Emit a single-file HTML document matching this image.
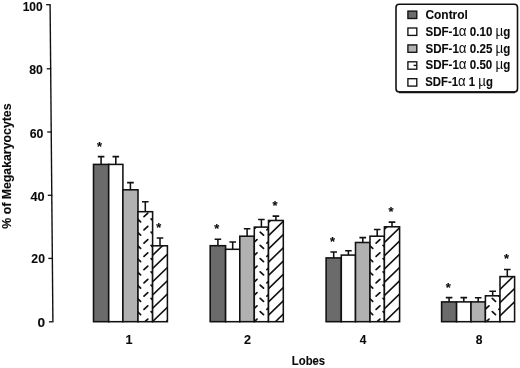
<!DOCTYPE html>
<html><head><meta charset="utf-8"><title>Megakaryocyte lobes chart</title>
<style>html,body{margin:0;padding:0;background:#fff}svg{display:block}.t text{font-family:"Liberation Sans",Arial,Helvetica,sans-serif;font-size:12.5px;font-weight:bold;fill:#0a0a0a;stroke:#0a0a0a;stroke-width:.1px}.t .s{stroke:none;font-weight:normal;font-size:14.5px}.t .a{stroke-width:.15px;font-weight:bold;font-size:12.8px}</style></head>
<body>
<svg width="520" height="368" viewBox="0 0 520 368">
<rect width="520" height="368" fill="#fff"/>
<defs><clipPath id="c1"><rect x="138.0" y="211.7" width="14.6" height="110.0"/></clipPath><clipPath id="c2"><rect x="152.6" y="245.8" width="14.8" height="75.9"/></clipPath><clipPath id="c3"><rect x="254.3" y="227.1" width="14.2" height="94.6"/></clipPath><clipPath id="c4"><rect x="268.5" y="220.5" width="14.8" height="101.2"/></clipPath><clipPath id="c5"><rect x="370.0" y="236.2" width="14.4" height="85.5"/></clipPath><clipPath id="c6"><rect x="384.4" y="226.8" width="15.2" height="94.9"/></clipPath><clipPath id="c7"><rect x="485.4" y="295.8" width="14.6" height="25.9"/></clipPath><clipPath id="c8"><rect x="500.0" y="276.6" width="14.6" height="45.1"/></clipPath></defs>
<path d="M50.1 4.7L52.9 321.8" stroke="#111" stroke-width="1.4" fill="none"/>
<path d="M46.1 4.7H50.6" stroke="#111" stroke-width="1.3"/>
<path d="M46.7 68.8H51.2" stroke="#111" stroke-width="1.3"/>
<path d="M47.2 132.0H51.7" stroke="#111" stroke-width="1.3"/>
<path d="M47.8 195.3H52.3" stroke="#111" stroke-width="1.3"/>
<path d="M48.3 258.4H52.8" stroke="#111" stroke-width="1.3"/>
<path d="M48.9 321.8H53.4" stroke="#111" stroke-width="1.3"/>
<path d="M101.1 164.4V156.6M97.8 156.6H104.4" stroke="#111" stroke-width="1.55" fill="none"/>
<rect x="93.5" y="164.4" width="15.2" height="157.3" fill="#6b6b6b"/>
<rect x="93.5" y="164.4" width="15.2" height="157.3" fill="none" stroke="#111" stroke-width="1.55"/>
<path d="M115.8 164.4V156.6M112.5 156.6H119.1" stroke="#111" stroke-width="1.55" fill="none"/>
<rect x="108.7" y="164.4" width="14.2" height="157.3" fill="#ffffff"/>
<rect x="108.7" y="164.4" width="14.2" height="157.3" fill="none" stroke="#111" stroke-width="1.55"/>
<path d="M130.4 189.8V182.6M127.1 182.6H133.8" stroke="#111" stroke-width="1.55" fill="none"/>
<rect x="122.9" y="189.8" width="15.1" height="131.9" fill="#b1b1b1"/>
<rect x="122.9" y="189.8" width="15.1" height="131.9" fill="none" stroke="#111" stroke-width="1.55"/>
<path d="M145.3 211.7V201.7M142.0 201.7H148.6" stroke="#111" stroke-width="1.55" fill="none"/>
<rect x="138.0" y="211.7" width="14.6" height="110.0" fill="#ffffff"/>
<path clip-path="url(#c1)" d="M130.3 216.6L134.2 213.1M130.3 229.8L134.2 226.3M130.3 243.1L134.2 239.6M130.3 256.3L134.2 252.8M130.3 269.6L134.2 266.1M130.3 282.8L134.2 279.3M130.3 296.1L134.2 292.6M130.3 309.3L134.2 305.8M130.3 322.6L134.2 319.1M137.4 205.7L140.6 208.7M144.0 216.6L147.8 213.1M137.4 218.9L140.6 221.9M144.0 229.8L147.8 226.3M137.4 232.2L140.6 235.2M144.0 243.1L147.8 239.6M137.4 245.4L140.6 248.4M144.0 256.3L147.8 252.8M137.4 258.6L140.6 261.6M144.0 269.6L147.8 266.1M137.4 271.9L140.6 274.9M144.0 282.8L147.8 279.3M137.4 285.1L140.6 288.1M144.0 296.1L147.8 292.6M137.4 298.4L140.6 301.4M144.0 309.3L147.8 305.8M137.4 311.6L140.6 314.6M144.0 322.6L147.8 319.1M137.4 324.9L140.6 327.9M151.1 205.7L154.2 208.7M151.1 218.9L154.2 221.9M151.1 232.2L154.2 235.2M151.1 245.4L154.2 248.4M151.1 258.6L154.2 261.6M151.1 271.9L154.2 274.9M151.1 285.1L154.2 288.1M151.1 298.4L154.2 301.4M151.1 311.6L154.2 314.6M151.1 324.9L154.2 327.9" stroke="#111" stroke-width="1.7" stroke-linecap="round" fill="none"/>
<rect x="138.0" y="211.7" width="14.6" height="110.0" fill="none" stroke="#111" stroke-width="1.55"/>
<path d="M160.0 245.8V237.9M156.7 237.9H163.3" stroke="#111" stroke-width="1.55" fill="none"/>
<rect x="152.6" y="245.8" width="14.8" height="75.9" fill="#ffffff"/>
<path clip-path="url(#c2)" d="M151.6 256.3L168.4 240.0M151.6 269.5L168.4 253.2M151.6 282.8L168.4 266.5M151.6 296.0L168.4 279.7M151.6 309.3L168.4 293.0M151.6 322.5L168.4 306.2M151.6 335.8L168.4 319.5" stroke="#111" stroke-width="1.6" stroke-linecap="round" fill="none"/>
<rect x="152.6" y="245.8" width="14.8" height="75.9" fill="none" stroke="#111" stroke-width="1.55"/>
<path d="M217.9 245.7V239.2M214.6 239.2H221.2" stroke="#111" stroke-width="1.55" fill="none"/>
<rect x="210.2" y="245.7" width="15.4" height="76.0" fill="#6b6b6b"/>
<rect x="210.2" y="245.7" width="15.4" height="76.0" fill="none" stroke="#111" stroke-width="1.55"/>
<path d="M232.7 249.3V242.0M229.4 242.0H236.0" stroke="#111" stroke-width="1.55" fill="none"/>
<rect x="225.6" y="249.3" width="14.2" height="72.4" fill="#ffffff"/>
<rect x="225.6" y="249.3" width="14.2" height="72.4" fill="none" stroke="#111" stroke-width="1.55"/>
<path d="M247.1 236.2V228.7M243.8 228.7H250.4" stroke="#111" stroke-width="1.55" fill="none"/>
<rect x="239.8" y="236.2" width="14.5" height="85.5" fill="#b1b1b1"/>
<rect x="239.8" y="236.2" width="14.5" height="85.5" fill="none" stroke="#111" stroke-width="1.55"/>
<path d="M261.4 227.1V219.5M258.1 219.5H264.7" stroke="#111" stroke-width="1.55" fill="none"/>
<rect x="254.3" y="227.1" width="14.2" height="94.6" fill="#ffffff"/>
<path clip-path="url(#c3)" d="M253.2 229.8L257.0 226.3M253.2 243.1L257.0 239.6M253.2 256.3L257.0 252.8M253.2 269.6L257.0 266.1M253.2 282.8L257.0 279.3M253.2 296.1L257.0 292.6M253.2 309.3L257.0 305.8M253.2 322.6L257.0 319.1M266.9 229.8L270.6 226.3M260.2 232.2L263.5 235.2M266.9 243.1L270.6 239.6M260.2 245.4L263.5 248.4M266.9 256.3L270.6 252.8M260.2 258.6L263.5 261.6M266.9 269.6L270.6 266.1M260.2 271.9L263.5 274.9M266.9 282.8L270.6 279.3M260.2 285.1L263.5 288.1M266.9 296.1L270.6 292.6M260.2 298.4L263.5 301.4M266.9 309.3L270.6 305.8M260.2 311.6L263.5 314.6M266.9 322.6L270.6 319.1M260.2 324.9L263.5 327.9" stroke="#111" stroke-width="1.7" stroke-linecap="round" fill="none"/>
<rect x="254.3" y="227.1" width="14.2" height="94.6" fill="none" stroke="#111" stroke-width="1.55"/>
<path d="M275.9 220.5V216.1M272.6 216.1H279.2" stroke="#111" stroke-width="1.55" fill="none"/>
<rect x="268.5" y="220.5" width="14.8" height="101.2" fill="#ffffff"/>
<path clip-path="url(#c4)" d="M267.5 223.4L284.3 207.1M267.5 236.6L284.3 220.3M267.5 249.9L284.3 233.6M267.5 263.1L284.3 246.8M267.5 276.4L284.3 260.1M267.5 289.6L284.3 273.3M267.5 302.9L284.3 286.6M267.5 316.1L284.3 299.8M267.5 329.4L284.3 313.1" stroke="#111" stroke-width="1.6" stroke-linecap="round" fill="none"/>
<rect x="268.5" y="220.5" width="14.8" height="101.2" fill="none" stroke="#111" stroke-width="1.55"/>
<path d="M333.7 257.9V251.9M330.4 251.9H337.0" stroke="#111" stroke-width="1.55" fill="none"/>
<rect x="326.1" y="257.9" width="15.2" height="63.8" fill="#6b6b6b"/>
<rect x="326.1" y="257.9" width="15.2" height="63.8" fill="none" stroke="#111" stroke-width="1.55"/>
<path d="M348.4 255.1V250.7M345.1 250.7H351.7" stroke="#111" stroke-width="1.55" fill="none"/>
<rect x="341.3" y="255.1" width="14.2" height="66.6" fill="#ffffff"/>
<rect x="341.3" y="255.1" width="14.2" height="66.6" fill="none" stroke="#111" stroke-width="1.55"/>
<path d="M362.8 242.5V237.6M359.4 237.6H366.1" stroke="#111" stroke-width="1.55" fill="none"/>
<rect x="355.5" y="242.5" width="14.5" height="79.2" fill="#b1b1b1"/>
<rect x="355.5" y="242.5" width="14.5" height="79.2" fill="none" stroke="#111" stroke-width="1.55"/>
<path d="M377.2 236.2V229.4M373.9 229.4H380.5" stroke="#111" stroke-width="1.55" fill="none"/>
<rect x="370.0" y="236.2" width="14.4" height="85.5" fill="#ffffff"/>
<path clip-path="url(#c5)" d="M362.4 243.1L366.2 239.6M362.4 256.3L366.2 252.8M362.4 269.6L366.2 266.1M362.4 282.8L366.2 279.3M362.4 296.1L366.2 292.6M362.4 309.3L366.2 305.8M362.4 322.6L366.2 319.1M369.4 232.2L372.7 235.2M376.1 243.1L379.9 239.6M369.4 245.4L372.7 248.4M376.1 256.3L379.9 252.8M369.4 258.6L372.7 261.6M376.1 269.6L379.9 266.1M369.4 271.9L372.7 274.9M376.1 282.8L379.9 279.3M369.4 285.1L372.7 288.1M376.1 296.1L379.9 292.6M369.4 298.4L372.7 301.4M376.1 309.3L379.9 305.8M369.4 311.6L372.7 314.6M376.1 322.6L379.9 319.1M369.4 324.9L372.7 327.9M383.1 232.2L386.3 235.2M383.1 245.4L386.3 248.4M383.1 258.6L386.3 261.6M383.1 271.9L386.3 274.9M383.1 285.1L386.3 288.1M383.1 298.4L386.3 301.4M383.1 311.6L386.3 314.6M383.1 324.9L386.3 327.9" stroke="#111" stroke-width="1.7" stroke-linecap="round" fill="none"/>
<rect x="370.0" y="236.2" width="14.4" height="85.5" fill="none" stroke="#111" stroke-width="1.55"/>
<path d="M392.0 226.8V222.1M388.7 222.1H395.3" stroke="#111" stroke-width="1.55" fill="none"/>
<rect x="384.4" y="226.8" width="15.2" height="94.9" fill="#ffffff"/>
<path clip-path="url(#c6)" d="M383.4 230.2L400.6 213.5M383.4 243.4L400.6 226.8M383.4 256.7L400.6 240.0M383.4 269.9L400.6 253.3M383.4 283.2L400.6 266.5M383.4 296.4L400.6 279.8M383.4 309.7L400.6 293.0M383.4 322.9L400.6 306.3M383.4 336.2L400.6 319.5" stroke="#111" stroke-width="1.6" stroke-linecap="round" fill="none"/>
<rect x="384.4" y="226.8" width="15.2" height="94.9" fill="none" stroke="#111" stroke-width="1.55"/>
<path d="M449.1 301.9V297.6M445.8 297.6H452.4" stroke="#111" stroke-width="1.55" fill="none"/>
<rect x="441.6" y="301.9" width="15.0" height="19.8" fill="#6b6b6b"/>
<rect x="441.6" y="301.9" width="15.0" height="19.8" fill="none" stroke="#111" stroke-width="1.55"/>
<path d="M463.8 301.9V297.6M460.5 297.6H467.1" stroke="#111" stroke-width="1.55" fill="none"/>
<rect x="456.6" y="301.9" width="14.4" height="19.8" fill="#ffffff"/>
<rect x="456.6" y="301.9" width="14.4" height="19.8" fill="none" stroke="#111" stroke-width="1.55"/>
<path d="M478.2 301.9V297.8M474.9 297.8H481.5" stroke="#111" stroke-width="1.55" fill="none"/>
<rect x="471.0" y="301.9" width="14.4" height="19.8" fill="#b1b1b1"/>
<rect x="471.0" y="301.9" width="14.4" height="19.8" fill="none" stroke="#111" stroke-width="1.55"/>
<path d="M492.7 295.8V291.2M489.4 291.2H496.0" stroke="#111" stroke-width="1.55" fill="none"/>
<rect x="485.4" y="295.8" width="14.6" height="25.9" fill="#ffffff"/>
<path clip-path="url(#c7)" d="M485.2 296.1L489.0 292.6M478.6 298.4L481.9 301.4M485.2 309.3L489.0 305.8M478.6 311.6L481.9 314.6M485.2 322.6L489.0 319.1M478.6 324.9L481.9 327.9M498.9 296.1L502.7 292.6M492.3 298.4L495.5 301.4M498.9 309.3L502.7 305.8M492.3 311.6L495.5 314.6M498.9 322.6L502.7 319.1M492.3 324.9L495.5 327.9" stroke="#111" stroke-width="1.7" stroke-linecap="round" fill="none"/>
<rect x="485.4" y="295.8" width="14.6" height="25.9" fill="none" stroke="#111" stroke-width="1.55"/>
<path d="M507.3 276.6V269.5M504.0 269.5H510.6" stroke="#111" stroke-width="1.55" fill="none"/>
<rect x="500.0" y="276.6" width="14.6" height="45.1" fill="#ffffff"/>
<path clip-path="url(#c8)" d="M499.0 277.1L515.6 261.0M499.0 290.3L515.6 274.2M499.0 303.6L515.6 287.5M499.0 316.8L515.6 300.7" stroke="#111" stroke-width="1.6" stroke-linecap="round" fill="none"/>
<rect x="500.0" y="276.6" width="14.6" height="45.1" fill="none" stroke="#111" stroke-width="1.55"/>
<g class="t">
<text transform="translate(22.68 10.6) scale(0.9565 1)">100</text>
<text transform="translate(29.25 74.1) scale(0.9806 1)">80</text>
<text transform="translate(29.64 137.6) scale(0.9843 1)">60</text>
<text transform="translate(30.45 201.4) scale(1.0201 1)">40</text>
<text transform="translate(31.35 263.3) scale(0.9763 1)">20</text>
<text transform="translate(37.59 327.4) scale(1.0934 1)">0</text>
<text transform="translate(125.43 344.4) scale(1.0097 1)">1</text>
<text transform="translate(244.06 344.0) scale(1.0108 1)">2</text>
<text transform="translate(359.76 343.6) scale(0.9534 1)">4</text>
<text transform="translate(475.65 343.6) scale(0.9656 1)">8</text>
<text transform="translate(291.79 365.4) scale(0.9076 1)">Lobes</text>
<text transform="translate(425.41 18.7) scale(0.9568 1)">Control</text>
<text transform="translate(425.45 35.6) scale(0.9261 1)">SDF-1<tspan class="s">α</tspan> 0.10 <tspan class="s">µ</tspan>g</text>
<text transform="translate(425.45 52.5) scale(0.9261 1)">SDF-1<tspan class="s">α</tspan> 0.25 <tspan class="s">µ</tspan>g</text>
<text transform="translate(425.46 69.4) scale(0.9249 1)">SDF-1<tspan class="s">α</tspan> 0.50 <tspan class="s">µ</tspan>g</text>
<text transform="translate(425.29 86.3) scale(0.9085 1)">SDF-1<tspan class="s">α</tspan> 1 <tspan class="s">µ</tspan>g</text>
<text transform="translate(11.3 228.73) rotate(-90) scale(0.9856 1)">% of Megakaryocytes</text>
<text x="99.5" y="151.2" text-anchor="middle" class="a">*</text>
<text x="158.8" y="231.8" text-anchor="middle" class="a">*</text>
<text x="216.7" y="233.3" text-anchor="middle" class="a">*</text>
<text x="274.9" y="209.5" text-anchor="middle" class="a">*</text>
<text x="332.5" y="246.1" text-anchor="middle" class="a">*</text>
<text x="390.9" y="215.5" text-anchor="middle" class="a">*</text>
<text x="448.2" y="291.7" text-anchor="middle" class="a">*</text>
<text x="506.5" y="263.4" text-anchor="middle" class="a">*</text>
</g>
<rect x="396.0" y="4.3" width="121.5" height="87.7" rx="3.2" ry="3.2" fill="none" stroke="#111" stroke-width="1.6"/>
<path d="M399 92.2H515" stroke="#111" stroke-width="2" fill="none"/>
<rect x="407.9" y="11.10" width="8.9" height="7.4" fill="#6b6b6b" stroke="#111" stroke-width="1.35"/>
<rect x="407.9" y="28.00" width="8.9" height="7.4" fill="#ffffff" stroke="#111" stroke-width="1.35"/>
<rect x="407.9" y="44.90" width="8.9" height="7.4" fill="#b1b1b1" stroke="#111" stroke-width="1.35"/>
<rect x="407.9" y="61.80" width="8.9" height="7.4" fill="#ffffff" stroke="#111" stroke-width="1.35"/>
<path d="M413.6 65.4H416.6" stroke="#111" stroke-width="1.4"/>
<rect x="407.9" y="78.70" width="8.9" height="7.4" fill="#ffffff" stroke="#111" stroke-width="1.35"/>
</svg>
</body></html>
